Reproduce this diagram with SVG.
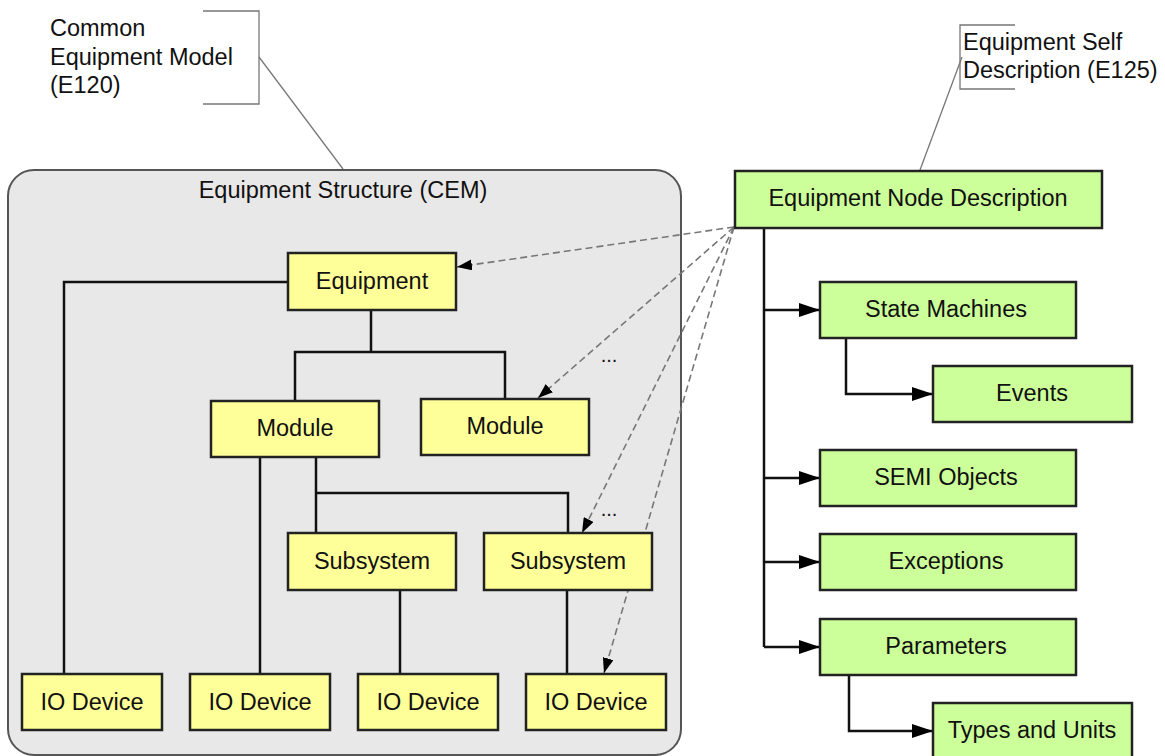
<svg xmlns="http://www.w3.org/2000/svg" width="1165" height="756" viewBox="0 0 1165 756">
  <defs>
    <marker id="solidArrow" viewBox="0 0 21 14" refX="21" refY="7" markerWidth="21" markerHeight="14" markerUnits="userSpaceOnUse" orient="auto">
      <path d="M0,0 L21,7 L0,14 Z" fill="#000"/>
    </marker>
    <marker id="dashArrow" viewBox="0 0 15 11" refX="15" refY="5.5" markerWidth="15" markerHeight="11" markerUnits="userSpaceOnUse" orient="auto">
      <path d="M0,0 L15,5.5 L0,11 Z" fill="#000"/>
    </marker>
    <style>
      text { font-family: "Liberation Sans", Arial, sans-serif; font-size: 23.5px; fill: #111; }
      .mid { text-anchor: middle; }
      .cem { fill: #ffff99; stroke: #222; stroke-width: 2.5; }
      .esd { fill: #ccff99; stroke: #222; stroke-width: 2.5; }
      .tree { fill: none; stroke: #111; stroke-width: 2.5; }
      .link { fill: none; stroke: #111; stroke-width: 2.5; marker-end: url(#solidArrow); }
      .ref { fill: none; stroke: #777; stroke-width: 1.6; stroke-dasharray: 7 4; marker-end: url(#dashArrow); }
      .note { fill: none; stroke: #777; stroke-width: 1.3; }
      .dots { font-size: 20px; }
    </style>
  </defs>

  <!-- callouts -->
  <g id="note-e120">
    <path class="note" d="M203,11 H259 V104 H203"/>
    <line class="note" x1="259" y1="57" x2="343" y2="169"/>
    <text x="50" y="36">Common</text>
    <text x="50" y="64.5">Equipment Model</text>
    <text x="50" y="93">(E120)</text>
  </g>
  <g id="note-e125">
    <path class="note" d="M1015,25 H960 V89 H1015"/>
    <line class="note" x1="962" y1="57" x2="920" y2="170"/>
    <text x="963" y="50">Equipment Self</text>
    <text x="963" y="78">Description (E125)</text>
  </g>

  <!-- equipment structure container -->
  <g id="cem-container">
    <rect x="8" y="170" width="673" height="585" rx="26" ry="26" fill="#e8e8e8" stroke="#555" stroke-width="2"/>
    <text class="mid" x="343" y="198">Equipment Structure (CEM)</text>
  </g>

  <!-- connectors -->
  <g id="connectors">
    <!-- CEM hierarchy -->
    <path class="tree" d="M288,282 H64 V674"/>
    <path class="tree" d="M371,310 V352"/>
    <path class="tree" d="M295,401 V352 H505 V399"/>
    <path class="tree" d="M260,457 V674"/>
    <path class="tree" d="M316,457 V533"/>
    <path class="tree" d="M316,493 H568 V533"/>
    <path class="tree" d="M400,590 V674"/>
    <path class="tree" d="M567,590 V674"/>

    <!-- E125 description tree -->
    <path class="tree" d="M764,228 V647"/>
    <path class="link" d="M764,310 H820"/>
    <path class="link" d="M846,338 V394 H933"/>
    <path class="link" d="M764,478 H820"/>
    <path class="link" d="M764,562 H820"/>
    <path class="link" d="M764,647 H820"/>
    <path class="link" d="M849,675 V731 H933"/>

    <!-- description references into the CEM -->
    <line class="ref" x1="734" y1="227" x2="457" y2="267"/>
    <line class="ref" x1="734" y1="227" x2="538" y2="398"/>
    <line class="ref" x1="734" y1="227" x2="582" y2="533"/>
    <line class="ref" x1="734" y1="227" x2="604" y2="673"/>
    <text class="dots mid" x="609" y="362">...</text>
    <text class="dots mid" x="609" y="516">...</text>
  </g>

  <!-- CEM nodes -->
  <g id="equipment">
    <rect class="cem" x="288" y="253" width="168" height="57"/>
    <text class="mid" x="372" y="289">Equipment</text>
  </g>
  <g id="module-1">
    <rect class="cem" x="211" y="401" width="168" height="56"/>
    <text class="mid" x="295" y="436">Module</text>
  </g>
  <g id="module-2">
    <rect class="cem" x="421" y="399" width="168" height="56"/>
    <text class="mid" x="505" y="434">Module</text>
  </g>
  <g id="subsystem-1">
    <rect class="cem" x="288" y="533" width="168" height="57"/>
    <text class="mid" x="372" y="569">Subsystem</text>
  </g>
  <g id="subsystem-2">
    <rect class="cem" x="484" y="533" width="168" height="57"/>
    <text class="mid" x="568" y="569">Subsystem</text>
  </g>
  <g id="io-device-1">
    <rect class="cem" x="22" y="674" width="140" height="56"/>
    <text class="mid" x="92" y="710">IO Device</text>
  </g>
  <g id="io-device-2">
    <rect class="cem" x="190" y="674" width="140" height="56"/>
    <text class="mid" x="260" y="710">IO Device</text>
  </g>
  <g id="io-device-3">
    <rect class="cem" x="358" y="674" width="140" height="56"/>
    <text class="mid" x="428" y="710">IO Device</text>
  </g>
  <g id="io-device-4">
    <rect class="cem" x="526" y="674" width="140" height="56"/>
    <text class="mid" x="596" y="710">IO Device</text>
  </g>

  <!-- E125 nodes -->
  <g id="equipment-node-description">
    <rect class="esd" x="735" y="171" width="367" height="57"/>
    <text class="mid" x="918" y="206">Equipment Node Description</text>
  </g>
  <g id="state-machines">
    <rect class="esd" x="820" y="282" width="256" height="56"/>
    <text class="mid" x="946" y="317">State Machines</text>
  </g>
  <g id="events">
    <rect class="esd" x="933" y="366" width="199" height="56"/>
    <text class="mid" x="1032" y="401">Events</text>
  </g>
  <g id="semi-objects">
    <rect class="esd" x="820" y="450" width="256" height="56"/>
    <text class="mid" x="946" y="485">SEMI Objects</text>
  </g>
  <g id="exceptions">
    <rect class="esd" x="820" y="534" width="256" height="56"/>
    <text class="mid" x="946" y="569">Exceptions</text>
  </g>
  <g id="parameters">
    <rect class="esd" x="820" y="619" width="256" height="56"/>
    <text class="mid" x="946" y="654">Parameters</text>
  </g>
  <g id="types-and-units">
    <rect class="esd" x="933" y="703" width="199" height="60"/>
    <text class="mid" x="1032" y="738">Types and Units</text>
  </g>
</svg>
